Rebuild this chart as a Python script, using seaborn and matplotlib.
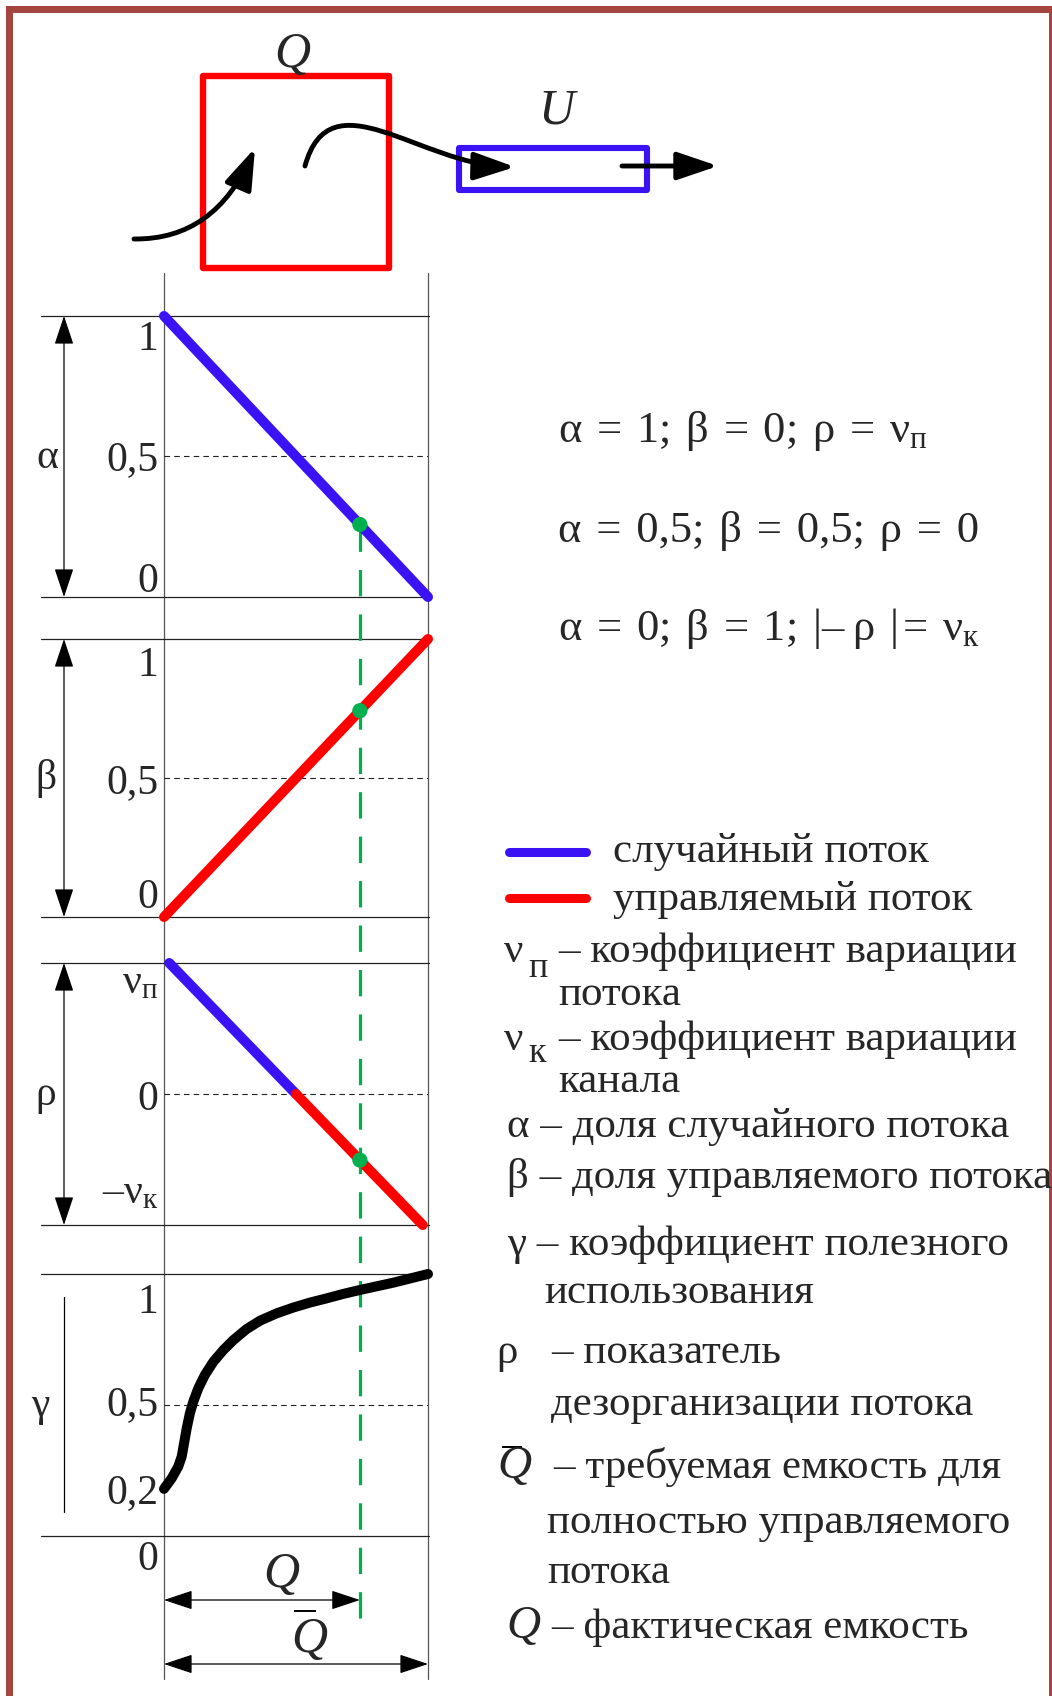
import numpy as np
import pandas as pd
import matplotlib
matplotlib.use("Agg")
import matplotlib.pyplot as plt
import seaborn as sns
from matplotlib.patches import Rectangle, FancyArrowPatch
from matplotlib.path import Path

sns.set_theme(style="white")
plt.rcParams["font.family"] = ["Liberation Serif", "DejaVu Serif"]
plt.rcParams["mathtext.fontset"] = "custom"
plt.rcParams["mathtext.rm"] = "Liberation Serif"
plt.rcParams["mathtext.it"] = "Liberation Serif:italic"
plt.rcParams["mathtext.default"] = "rm"
plt.rcParams["lines.scale_dashes"] = False

# ---------------- data ----------------
Q_REQUIRED = 1.0      # required capacity for a fully controlled flow
Q_ACTUAL = 0.742      # actual capacity (share of the required one)

# share of random flow
alpha_q = [0.0, 1.0]
alpha_val = [1.0, 0.0]
# share of controlled flow
beta_q = [0.0, 1.0]
beta_val = [0.0, 1.0]
# flow disorganisation index (in units of nu_p above zero, nu_k below zero)
rho_q = [0.02, 0.5, 0.5, 0.98]
rho_val = [1.0, 0.0, 0.0, -1.0]
rho_kind = ["random", "random", "controlled", "controlled"]
# useful utilisation coefficient
gamma_q = [0.0, 0.029, 0.054, 0.067, 0.076, 0.086, 0.098, 0.111, 0.13, 0.155,
           0.187, 0.225, 0.263, 0.313, 0.364, 0.427, 0.49, 0.553, 0.616,
           0.679, 0.742, 0.869, 1.0]
gamma_val = [0.18, 0.22, 0.265, 0.303, 0.354, 0.411, 0.468, 0.513, 0.564, 0.615,
             0.665, 0.71, 0.748, 0.79, 0.822, 0.85, 0.872, 0.891, 0.907,
             0.924, 0.939, 0.967, 1.0]

SP = "\u2004"   # slightly wider space used in the formulas
equations = [
    f"α{SP}={SP}1;{SP}β{SP}={SP}0;{SP}ρ{SP}={SP}$\\nu_{{п}}$",
    f"α{SP}={SP}0,5;{SP}β{SP}={SP}0,5;{SP}ρ{SP}={SP}0",
    f"α{SP}={SP}0;{SP}β{SP}={SP}1;{SP}|–\u2009ρ{SP}|\u200a={SP}$\\nu_{{к}}$",
]

# ---------------- style ----------------
W, H = 1052, 1696
BLUE = "#3a12f4"
RED = "#ff0000"
GREEN = "#00b050"
BORDER = "#a4463f"
INK = "#222222"
GRAY = "#555555"
FS = 30          # axis labels
FS_TXT = 31      # legend text
FS_EQ = 32       # formulas
THICK = 7.2

X0, X1 = 164, 428
PANELS = {
    "alpha": (316, 597, (0.0, 1.0)),
    "beta": (639, 917, (0.0, 1.0)),
    "rho": (963, 1225, (-1.0, 1.0)),
    "gamma": (1274, 1536, (0.0, 1.0)),
}


def qx(q):
    return X0 + (X1 - X0) * q / Q_REQUIRED


def vy(name, v):
    top, bottom, (lo, hi) = PANELS[name]
    return top + (hi - v) / (hi - lo) * (bottom - top)


fig = plt.figure(figsize=(W / 100, H / 100), dpi=100)
bg = fig.add_axes([0, 0, 1, 1])
bg.set_xlim(0, W)
bg.set_ylim(H, 0)
bg.axis("off")


def panel(name):
    top, bottom, ylim = PANELS[name]
    ax = fig.add_axes([X0 / W, 1 - bottom / H, (X1 - X0) / W, (bottom - top) / H])
    ax.set_xlim(0, Q_REQUIRED)
    ax.set_ylim(*ylim)
    ax.axis("off")
    return ax


def q_bar(x, y, size, overline):
    """Italic Q with an optional bar above it."""
    bg.text(x, y, "Q", fontsize=size, style="italic", ha="left", va="baseline")
    if overline is not None:
        x0, x1, yo = overline
        bg.plot([x0, x1], [yo, yo], color="black", lw=1.4, solid_capstyle="butt")


# frame of the sheet
bg.add_patch(Rectangle((6, 6), W, 7, color=BORDER, lw=0))
bg.add_patch(Rectangle((6, 6), 7, H, color=BORDER, lw=0))
bg.add_patch(Rectangle((1049, 6), 10, H, color=BORDER, lw=0))

# ---------------- queue scheme ----------------
bg.add_patch(Rectangle((203, 76), 186, 192, fill=False, ec=RED, lw=4.6, joinstyle="round"))
bg.add_patch(Rectangle((459, 148), 188, 42, fill=False, ec=BLUE, lw=4.4, joinstyle="round"))
bg.text(292, 67, "Q", fontsize=36, style="italic", ha="center", va="baseline")
bg.text(556, 123, "U", fontsize=36, style="italic", ha="center", va="baseline")

arr = dict(arrowstyle="-|>,head_length=25,head_width=8.5", mutation_scale=1,
           lw=3.5, color="black", capstyle="round")
p1 = Path([(134, 239), (215, 240), (255, 148)], [Path.MOVETO, Path.CURVE3, Path.CURVE3])
p2 = Path([(305, 166), (330, 75), (420, 165), (515, 167)],
          [Path.MOVETO, Path.CURVE4, Path.CURVE4, Path.CURVE4])
bg.add_patch(FancyArrowPatch(path=p1, **arr))
bg.add_patch(FancyArrowPatch(path=p2, **arr))
bg.add_patch(FancyArrowPatch((622, 166), (718, 166), shrinkA=0, shrinkB=0, **arr))

# ---------------- grid of the diagrams ----------------
for x in (X0, X1):
    bg.plot([x, x], [273, 1679], color=GRAY, lw=0.9)
for name in PANELS:
    top, bottom, _ = PANELS[name]
    for y in (top, bottom):
        bg.plot([41, 429], [y, y], color=INK, lw=0.9)

dim = dict(arrowstyle="<|-|>,head_length=18,head_width=6", mutation_scale=1,
           shrinkA=0, shrinkB=0, lw=0.9, color="black")
for name in ("alpha", "beta", "rho"):
    top, bottom, _ = PANELS[name]
    bg.add_patch(FancyArrowPatch((64, top), (64, bottom), **dim))
bg.plot([64, 64], [1297, 1512], color="black", lw=0.9)

# capacity dimension arrows
bg.add_patch(FancyArrowPatch((qx(0), 1600), (qx(Q_ACTUAL), 1600), **dim))
bg.add_patch(FancyArrowPatch((qx(0), 1664), (qx(Q_REQUIRED), 1664), **dim))
q_bar(263, 1587, 36, None)
q_bar(291, 1652, 36, (294, 316, 1611))

# actual capacity marker line
y_alpha_pt = vy("alpha", np.interp(Q_ACTUAL, alpha_q, alpha_val))
bg.plot([qx(Q_ACTUAL)] * 2, [y_alpha_pt, 1627], color=GREEN, lw=2.3, dashes=(19, 13))

# ---------------- curves ----------------
line_kw = dict(linewidth=THICK, solid_capstyle="round", solid_joinstyle="round",
               clip_on=False, legend=False)
dash_kw = dict(color=INK, lw=0.8, ls=(0, (4, 3)))
dot_kw = dict(color=GREEN, s=120, edgecolor="none", zorder=5, clip_on=False, legend=False)

ax_a = panel("alpha")
ax_a.axhline(0.5, **dash_kw)
sns.lineplot(x=alpha_q, y=alpha_val, ax=ax_a, color=BLUE, **line_kw)
sns.scatterplot(x=[Q_ACTUAL], y=[np.interp(Q_ACTUAL, alpha_q, alpha_val)], ax=ax_a, **dot_kw)

ax_b = panel("beta")
ax_b.axhline(0.5, **dash_kw)
sns.lineplot(x=beta_q, y=beta_val, ax=ax_b, color=RED, **line_kw)
sns.scatterplot(x=[Q_ACTUAL], y=[np.interp(Q_ACTUAL, beta_q, beta_val)], ax=ax_b, **dot_kw)

ax_r = panel("rho")
ax_r.axhline(0.0, **dash_kw)
rho_df = pd.DataFrame({"q": rho_q, "rho": rho_val, "kind": rho_kind})
sns.lineplot(data=rho_df, x="q", y="rho", hue="kind", estimator=None, sort=False,
             palette={"random": BLUE, "controlled": RED}, ax=ax_r, **line_kw)
sns.scatterplot(x=[Q_ACTUAL], y=[np.interp(Q_ACTUAL, rho_q, rho_val)], ax=ax_r, **dot_kw)

ax_g = panel("gamma")
ax_g.axhline(0.5, **dash_kw)
sns.lineplot(x=gamma_q, y=gamma_val, ax=ax_g, color="black", **line_kw)

# ---------------- axis labels ----------------
ticks = {
    "alpha": [(1.0, "1", 34), (0.5, "0,5", 14), (0.0, "0", -5)],
    "beta": [(1.0, "1", 37), (0.5, "0,5", 15), (0.0, "0", -9)],
    "rho": [(1.0, "$\\nu_{п}$", 30), (0.0, "0", 16), (-1.0, "–$\\nu_{к}$", -22)],
    "gamma": [(1.0, "1", 39), (0.5, "0,5", 10), (0.2, "0,2", 19), (0.0, "0", 34)],
}
for name, items in ticks.items():
    for v, lab, dy in items:
        bg.text(158, vy(name, v) + dy, lab, fontsize=FS, ha="right", va="baseline")

for name, sym, x in (("alpha", "α", 47), ("beta", "β", 46), ("rho", "ρ", 46), ("gamma", "γ", 40)):
    top, bottom, _ = PANELS[name]
    bg.text(x, (top + bottom) / 2 + 11, sym, fontsize=FS, ha="center", va="baseline")

# ---------------- equations ----------------
for y, eq in zip((442, 542, 640), equations):
    bg.text(558, y, eq, fontsize=FS_EQ, ha="left", va="baseline")

# ---------------- legend ----------------
bg.plot([509, 586], [852, 852], color=BLUE, lw=6.5, solid_capstyle="round")
bg.plot([509, 586], [898, 898], color=RED, lw=6.5, solid_capstyle="round")
legend_rows = [
    (613, 862, "случайный поток"),
    (613, 910, "управляемый поток"),
    (504, 962, "ν"),
    (558, 962, "– коэффициент вариации"),
    (558, 1005, "потока"),
    (504, 1050, "ν"),
    (558, 1050, "– коэффициент вариации"),
    (558, 1092, "канала"),
    (507, 1137, "α – доля случайного потока"),
    (507, 1188, "β – доля управляемого потока"),
    (507, 1255, "γ – коэффициент полезного"),
    (544, 1303, "использования"),
    (496, 1363, "ρ"),
    (551, 1363, "– показатель"),
    (551, 1415, "дезорганизации потока"),
    (553, 1478, "– требуемая емкость для"),
    (547, 1533, "полностью управляемого"),
    (547, 1583, "потока"),
    (551, 1638, "– фактическая емкость"),
]
for x, y, s in legend_rows:
    bg.text(x, y, s, fontsize=FS_TXT, ha="left", va="baseline")
bg.text(528, 977, "п", fontsize=26, ha="left", va="baseline")
bg.text(528, 1062, "к", fontsize=26, ha="left", va="baseline")
q_bar(497, 1478, 34, (502, 522, 1447))
q_bar(506, 1638, 34, None)

fig.savefig("out.png", dpi=100)
